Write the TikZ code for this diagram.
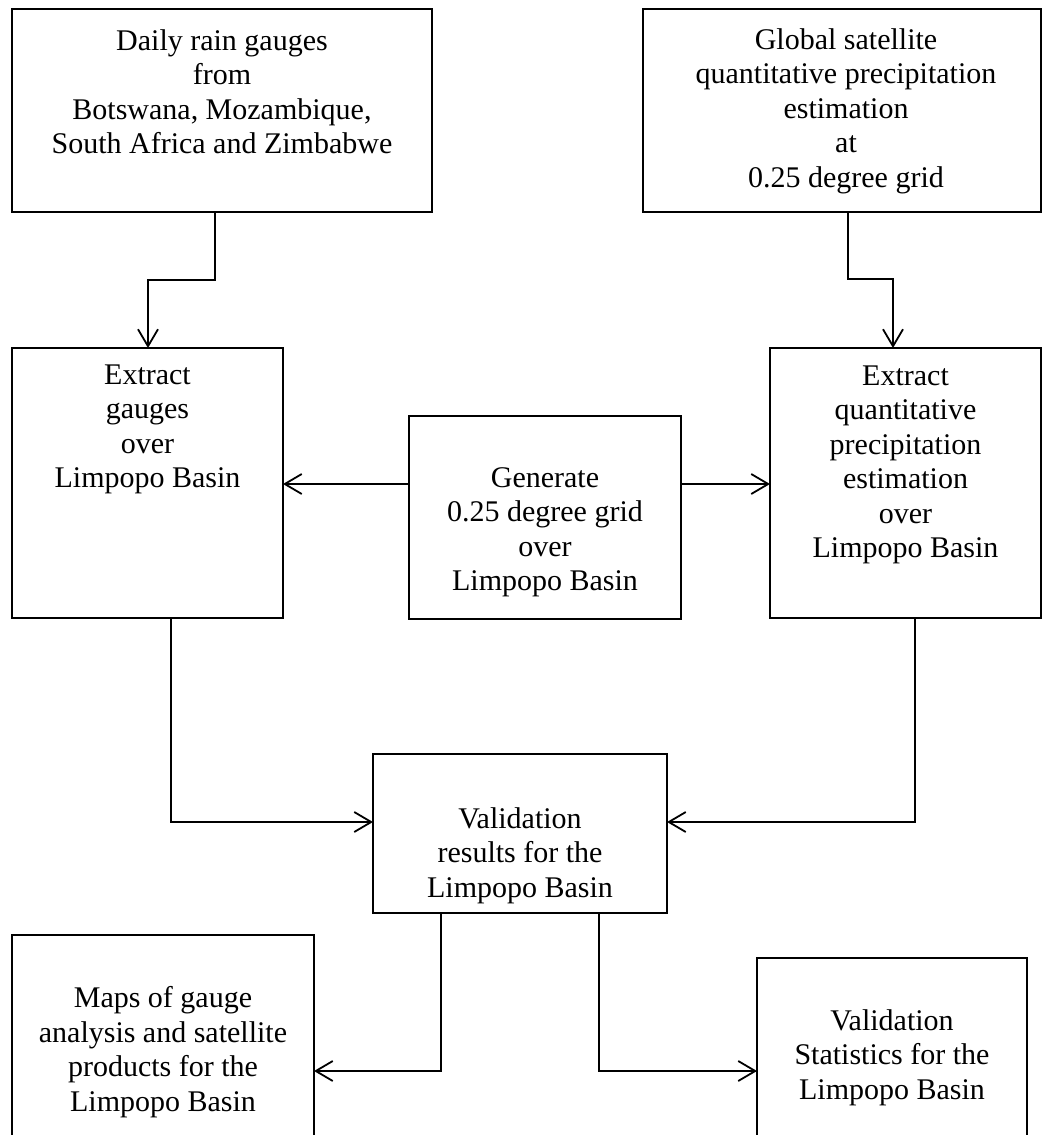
\documentclass[tikz,border=0pt]{standalone}
\usepackage{fontspec}
\setmainfont{Liberation Serif}
\usetikzlibrary{arrows.meta,calc}
\begin{document}
\begin{tikzpicture}[x=0.5pt,y=-0.5pt,
  box/.style={draw=black,line width=1.1pt,inner sep=0pt,outer sep=0pt,fill=none},
  txt/.style={inner sep=0pt,outer sep=0pt,align=center,anchor=north,
    font=\fontsize{15pt}{17.25pt}\selectfont},
  conn/.style={draw=black,line width=0.9pt,line join=miter},
  arr/.style={conn,-{Straight Barb[length=8.5pt,width=10pt]}}]
\useasboundingbox (0,0) rectangle (1044,1135);
\clip (0,0) rectangle (1044,1135);
% boxes
\node[box,minimum width=210pt,minimum height=101.5pt] (b1) at (222,110.5) {};
\node[box,minimum width=199pt,minimum height=101.5pt] (b2) at (842,110.5) {};
\node[box,minimum width=135.5pt,minimum height=135pt] (b3) at (147.5,483) {};
\node[box,minimum width=136pt,minimum height=101.5pt] (b4) at (545,517.5) {};
\node[box,minimum width=135.5pt,minimum height=135pt] (b5) at (905.5,483) {};
\node[box,minimum width=147pt,minimum height=79.5pt] (b6) at (520,833.5) {};
\node[box,minimum width=151pt,minimum height=105pt] (b7) at (163,1040) {};
\node[box,minimum width=135pt,minimum height=93.5pt] (b8) at (892,1051.5) {};
% texts
\node[txt] (t1) at (222,29.5) {Daily rain gauges\\from\\Botswana, Mozambique,\\South Africa and Zimbabwe};
\node[txt] (t2) at (846,28.5) {Global satellite\\quantitative precipitation\\estimation\\at\\0.25 degree grid};
\node[txt] (t3) at (147.5,364.5) {Extract\\gauges\\over\\Limpopo Basin};
\node[txt] (t4) at (545,467.5) {Generate\\0.25 degree grid\\over\\Limpopo Basin};
\node[txt] (t5) at (905.5,365.5) {Extract\\quantitative\\precipitation\\estimation\\over\\Limpopo Basin};
\node[txt] (t6) at (520,807.5) {Validation\\results for the\\Limpopo Basin};
\node[txt] (t7) at (163,986.5) {Maps of gauge\\analysis and satellite\\products for the\\Limpopo Basin};
\node[txt] (t8) at (892,1009.5) {Validation\\Statistics for the\\Limpopo Basin};
% junction coordinates
\coordinate (j1a) at (215,280);
\coordinate (j1b) at (148,280);
\coordinate (j2a) at (848,279);
\coordinate (j2b) at (893,279);
\coordinate (g) at (545,484);
\coordinate (j3) at (171,822);
\coordinate (j4) at (915,822);
\coordinate (j5) at (441,1071);
\coordinate (j6) at (599,1071);
% connectors
\draw[arr] (j1a |- b1.south) -- (j1a) -- (j1b) -- (j1b |- b3.north);
\draw[arr] (j2a |- b2.south) -- (j2a) -- (j2b) -- (j2b |- b5.north);
\draw[arr] (b4.west |- g) -- (b3.east |- g);
\draw[arr] (b4.east |- g) -- (b5.west |- g);
\draw[arr] (j3 |- b3.south) -- (j3) -- (b6.west |- j3);
\draw[arr] (j4 |- b5.south) -- (j4) -- (b6.east |- j4);
\draw[arr] (j5 |- b6.south) -- (j5) -- (b7.east |- j5);
\draw[arr] (j6 |- b6.south) -- (j6) -- (b8.west |- j6);
\end{tikzpicture}
\end{document}
